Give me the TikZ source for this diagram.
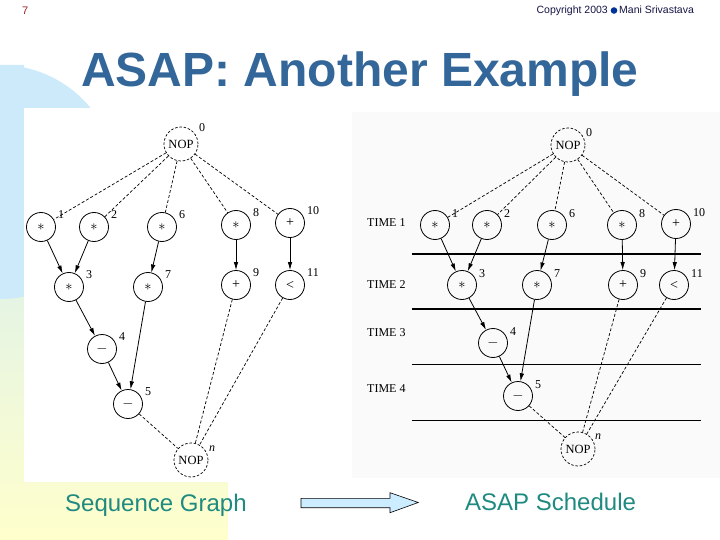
\documentclass[tikz,border=0pt]{standalone}
\usepackage{fontspec}
\setmainfont{Liberation Serif}
\newfontfamily\arialf{Liberation Sans}
\usetikzlibrary{arrows.meta,calc}
\definecolor{titleblue}{RGB}{51,102,153}
\definecolor{capteal}{RGB}{30,138,128}
\definecolor{bgblue}{RGB}{204,234,250}
\definecolor{bgyellow}{RGB}{255,255,204}
\definecolor{arrowfill}{RGB}{204,236,255}
\definecolor{pagenum}{RGB}{153,40,40}
\definecolor{copyc}{RGB}{20,20,70}
\definecolor{bulletc}{RGB}{0,51,153}
\definecolor{speckle}{gray}{0.982}
\begin{document}
\begin{tikzpicture}[x=1pt,y=-1pt,
  op/.style={circle,draw,line width=0.8pt,minimum size=29pt,inner sep=0pt,font=\fontsize{14}{14}\selectfont},
  nop/.style={circle,draw,dash pattern=on 2.5pt off 1.8pt,line width=0.7pt,minimum size=34pt,inner sep=0pt,font=\fontsize{12.5}{12.5}\selectfont},
  num/.style={font=\fontsize{12}{12}\selectfont,inner sep=0pt,anchor=west},
  dep/.style={line width=0.8pt,-{Latex[length=8pt,width=4.5pt]}},
  dsh/.style={line width=0.7pt,dash pattern=on 3pt off 2pt},
  timelbl/.style={font=\fontsize{12}{12}\selectfont,anchor=west,inner sep=0pt},
  tline/.style={line width=#1},
  caption/.style={font=\arialf\fontsize{24}{24}\selectfont,text=capteal,anchor=base west,inner sep=0pt}
]
\useasboundingbox (0,0) rectangle (720,540);
% background
\shade[top color=bgblue,bottom color=bgyellow] (0,65) rectangle (24,540) (0,482) rectangle (228,540);
\fill[bgblue] (0,182) circle (117);
\fill[white] (24,108) rectangle (340,482);
\fill[speckle] (352,112) rectangle (720,478);
% header
\node[font=\arialf\fontsize{11}{11}\selectfont,text=pagenum,anchor=base west,inner sep=0pt] (pg) at (22,15) {7};
\node[font=\arialf\fontsize{10.5}{10.5}\selectfont,text=copyc,anchor=base east,inner sep=0pt] (cp1) at (608,14) {Copyright 2003};
\fill[bulletc] (614,10.5) circle (3.3);
\node[font=\arialf\fontsize{10.5}{10.5}\selectfont,text=copyc,anchor=base west,inner sep=0pt] (cp2) at (619,14) {Mani Srivastava};
\node[font=\arialf\bfseries\fontsize{48}{48}\selectfont,text=titleblue,anchor=base west,inner sep=0pt] (title) at (81,87) {ASAP: Another Example};

% ---------- left graph ----------
\node[nop] (L0) at (181,144) {NOP};
\node[num] (L0l) at (199,128) {0};
\node[nop] (Ln) at (191,460) {NOP};
\node[num] (Lnl) at (209,449) {\itshape n};
\foreach \nm/\x/\y/\sym/\lab in {L1/41/227/$\ast$/1, L2/94/227/$\ast$/2, L6/162/227/$\ast$/6, L8/236/225/$\ast$/8, L10/290/223/+/10,
  L3/69/287/$\ast$/3, L7/148/287/$\ast$/7, L9/236/285/+/9, L11/290/285/</11, L4/102/349/$-$/4, L5/128/404/$-$/5}{
  \node[op] (\nm) at (\x,\y) {\sym};
  \node[num] (\nm l) at (\x+17,\y-12) {\lab};
}
\foreach \t in {L1,L2,L6,L8,L10}{\draw[dsh] (L0) -- (\t);}
\foreach \s/\t in {L1/L3,L2/L3,L6/L7,L8/L9,L10/L11,L3/L4,L4/L5,L7/L5}{\draw[dep] (\s) -- (\t);}
\foreach \s in {L5,L9,L11}{\draw[dsh] (\s) -- (Ln);}

% ---------- right graph ----------
\draw[tline=1.6pt] (412,254) -- (701,254);
\draw[tline=1.6pt] (412,309) -- (701,309);
\draw[tline=1pt] (412,364) -- (701,364);
\draw[tline=1pt] (412,420) -- (701,420);
\node[timelbl] (T1) at (367,223) {TIME 1};
\node[timelbl] (T2) at (367,285) {TIME 2};
\node[timelbl] (T3) at (367,333) {TIME 3};
\node[timelbl] (T4) at (367,389) {TIME 4};
\node[nop] (R0) at (568,145) {NOP};
\node[num] (R0l) at (586,133) {0};
\node[nop] (Rn) at (578,449) {NOP};
\node[num] (Rnl) at (595,437) {\itshape n};
\foreach \nm/\x/\y/\sym/\lab in {R1/435/225/$\ast$/1, R2/487/225/$\ast$/2, R6/552/225/$\ast$/6, R8/622/225/$\ast$/8, R10/676/224/+/10,
  R3/462/285/$\ast$/3, R7/537/285/$\ast$/7, R9/623/285/+/9, R11/674/285/</11, R4/493/343/$-$/4, R5/518/396/$-$/5}{
  \node[op] (\nm) at (\x,\y) {\sym};
  \node[num] (\nm l) at (\x+17,\y-11) {\lab};
}
\foreach \t in {R1,R2,R6,R8,R10}{\draw[dsh] (R0) -- (\t);}
\foreach \s/\t in {R1/R3,R2/R3,R6/R7,R8/R9,R10/R11,R3/R4,R4/R5,R7/R5}{\draw[dep] (\s) -- (\t);}
\foreach \s in {R5,R9,R11}{\draw[dsh] (\s) -- (Rn);}

% ---------- captions and arrow ----------
\node[caption] (capL) at (65,511) {Sequence Graph};
\node[caption] (capR) at (465,510) {ASAP Schedule};
\draw[fill=arrowfill,line width=0.6pt] (301,498.3) -- (390,498.3) -- (390,492.7) -- (418.3,502.5) -- (390,512.7) -- (390,507.7) -- (301,507.7) -- cycle;
\end{tikzpicture}
\end{document}
